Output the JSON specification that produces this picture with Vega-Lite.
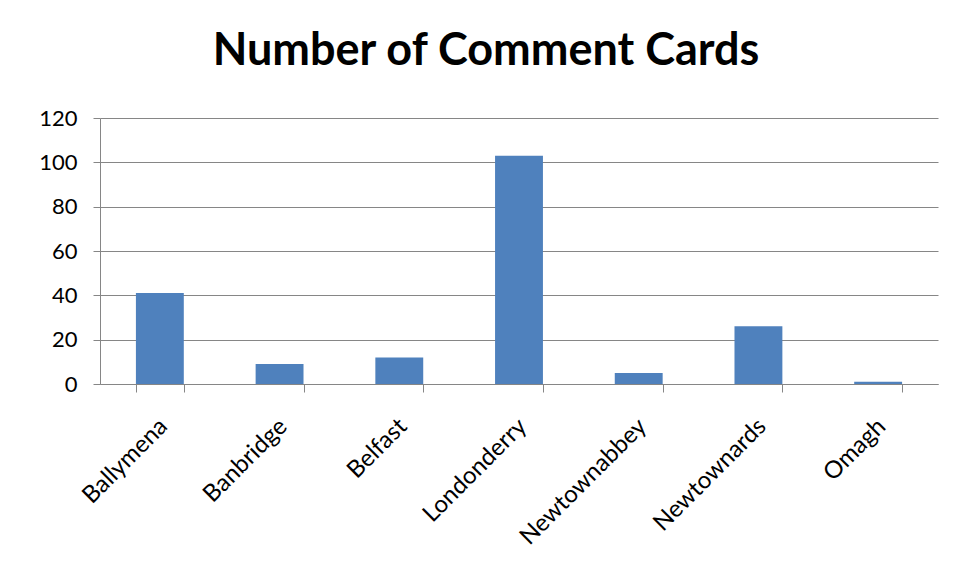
{
  "$schema": "https://vega.github.io/schema/vega-lite/v6.json",
  "width": 838,
  "height": 266,
  "autosize": {"type": "none"},
  "padding": {"left": 100, "top": 118, "right": 20, "bottom": 196},
  "background": "white",
  "title": {
    "text": "Number of Comment Cards",
    "font": "Lato",
    "fontSize": 45,
    "fontWeight": "bold",
    "color": "black",
    "anchor": "middle",
    "baseline": "alphabetic",
    "offset": 42,
    "dx": -33,
    "dy": 45
  },
  "data": {
    "values": [
      {"town": "Ballymena", "cards": 41},
      {"town": "Banbridge", "cards": 9},
      {"town": "Belfast", "cards": 12},
      {"town": "Londonderry", "cards": 103},
      {"town": "Newtownabbey", "cards": 5},
      {"town": "Newtownards", "cards": 26},
      {"town": "Omagh", "cards": 1}
    ]
  },
  "mark": {"type": "bar", "color": "#4F81BD"},
  "encoding": {
    "x": {
      "field": "town",
      "type": "nominal",
      "sort": null,
      "scale": {"paddingInner": 0.6, "paddingOuter": 0.3},
      "axis": {
        "title": null,
        "labelAngle": -45,
        "labelFont": "Lato",
        "labelFontSize": 24,
        "labelColor": "black",
        "labelPadding": 22,
        "labelOffset": -5,
        "tickBand": "extent",
        "tickSize": 8,
        "tickColor": "#868686",
        "domainColor": "#868686",
        "grid": false
      }
    },
    "y": {
      "field": "cards",
      "type": "quantitative",
      "scale": {"domain": [0, 120]},
      "axis": {
        "title": null,
        "values": [0, 20, 40, 60, 80, 100, 120],
        "labelFont": "Lato",
        "labelFontSize": 22,
        "labelColor": "black",
        "labelPadding": 16,
        "tickSize": 7,
        "tickColor": "#868686",
        "domainColor": "#868686",
        "gridColor": "#868686",
        "gridOpacity": 1
      }
    }
  },
  "config": {
    "view": {"stroke": null}
  }
}
